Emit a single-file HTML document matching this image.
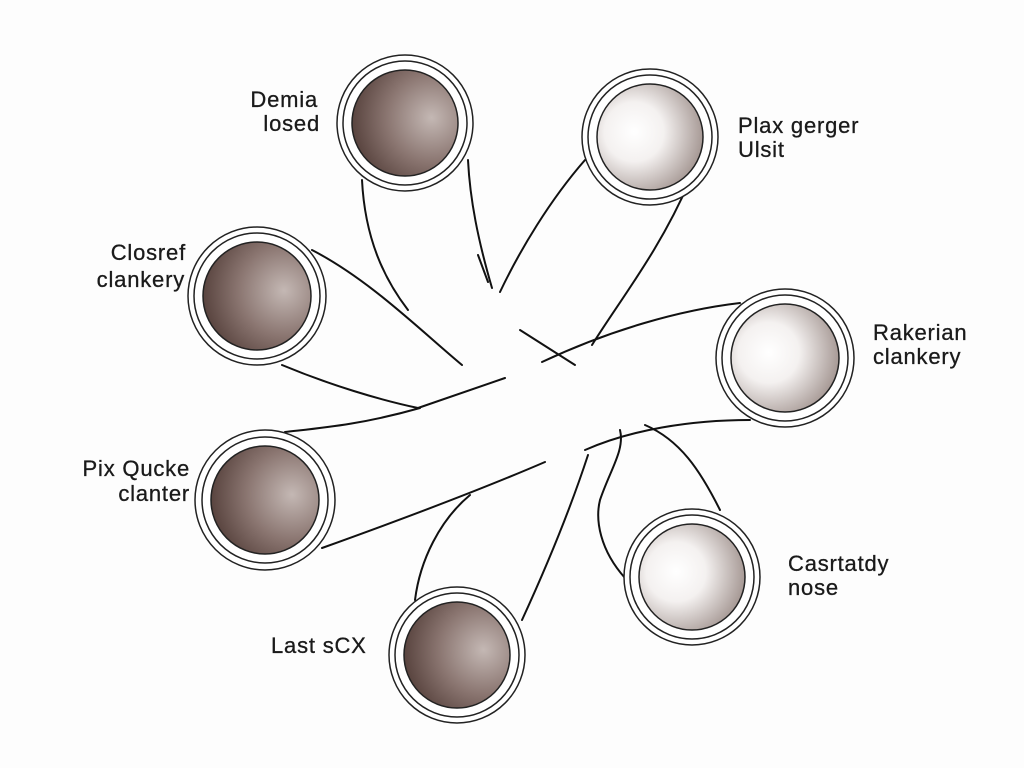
<!DOCTYPE html>
<html><head><meta charset="utf-8"><style>
html,body{margin:0;padding:0;background:#fdfdfd;width:1024px;height:768px;overflow:hidden}
svg{display:block}
text{font-family:"Liberation Sans",sans-serif;font-size:22px;letter-spacing:0.8px;fill:#1a1a1a;stroke:#1a1a1a;stroke-width:0.3}
.e{text-anchor:end}
</style></head><body>
<svg width="1024" height="768" viewBox="0 0 1024 768">
<defs>
<radialGradient id="dk" cx="0.75" cy="0.45" r="0.85">
<stop offset="0" stop-color="#c4b8b4"/><stop offset="0.5" stop-color="#8a7570"/><stop offset="1" stop-color="#4a3530"/>
</radialGradient>
<radialGradient id="lt" cx="0.35" cy="0.45" r="0.8">
<stop offset="0" stop-color="#ffffff"/><stop offset="0.35" stop-color="#f4f1f0"/><stop offset="0.8" stop-color="#a99c98"/><stop offset="1" stop-color="#7a6a66"/>
</radialGradient>
</defs>
<g fill="none" stroke="#111" stroke-width="2" stroke-linecap="round">
<path d="M362,180 C365,240 385,280 408,310"/>
<path d="M468,160 C470,200 478,240 492,288"/>
<path d="M478,255 L488,282"/>
<path d="M585,160 C550,200 520,250 500,292"/>
<path d="M690,180 C660,250 620,300 592,345"/>
<path d="M520,330 L575,365"/>
<path d="M312,250 C370,280 420,330 462,365"/>
<path d="M282,365 C330,385 380,400 418,408"/>
<path d="M418,408 L505,378"/>
<path d="M285,432 C320,428 360,425 420,408"/>
<path d="M740,303 C680,310 610,330 542,362"/>
<path d="M750,420 C690,420 630,430 585,450"/>
<path d="M322,548 C400,520 480,490 545,462"/>
<path d="M720,510 C700,470 680,440 645,425"/>
<path d="M625,578 C600,550 595,520 600,500 C610,470 625,450 620,430"/>
<path d="M415,600 C420,560 440,520 470,495"/>
<path d="M522,620 C545,570 570,510 588,455"/>
</g>
<g stroke="#222" stroke-width="1.5">
<circle cx="405" cy="123" r="68" fill="#fff"/><circle cx="405" cy="123" r="62" fill="#fff"/><circle cx="405" cy="123" r="53" fill="url(#dk)"/>
<circle cx="650" cy="137" r="68" fill="#fff"/><circle cx="650" cy="137" r="62" fill="#fff"/><circle cx="650" cy="137" r="53" fill="url(#lt)"/>
<circle cx="257" cy="296" r="69" fill="#fff"/><circle cx="257" cy="296" r="63" fill="#fff"/><circle cx="257" cy="296" r="54" fill="url(#dk)"/>
<circle cx="785" cy="358" r="69" fill="#fff"/><circle cx="785" cy="358" r="63" fill="#fff"/><circle cx="785" cy="358" r="54" fill="url(#lt)"/>
<circle cx="265" cy="500" r="70" fill="#fff"/><circle cx="265" cy="500" r="63" fill="#fff"/><circle cx="265" cy="500" r="54" fill="url(#dk)"/>
<circle cx="692" cy="577" r="68" fill="#fff"/><circle cx="692" cy="577" r="62" fill="#fff"/><circle cx="692" cy="577" r="53" fill="url(#lt)"/>
<circle cx="457" cy="655" r="68" fill="#fff"/><circle cx="457" cy="655" r="62" fill="#fff"/><circle cx="457" cy="655" r="53" fill="url(#dk)"/>
</g>
<text class="e" x="318" y="107">Demia</text><text class="e" x="320" y="131">losed</text>
<text x="738" y="133">Plax gerger</text><text x="738" y="157">Ulsit</text>
<text class="e" x="186" y="260">Closref</text><text class="e" x="185" y="287">clankery</text>
<text x="873" y="340">Rakerian</text><text x="873" y="364">clankery</text>
<text class="e" x="190" y="476">Pix Qucke</text><text class="e" x="190" y="501">clanter</text>
<text x="788" y="571">Casrtatdy</text><text x="788" y="595">nose</text>
<text x="271" y="653">Last sCX</text>
</svg>
</body></html>
